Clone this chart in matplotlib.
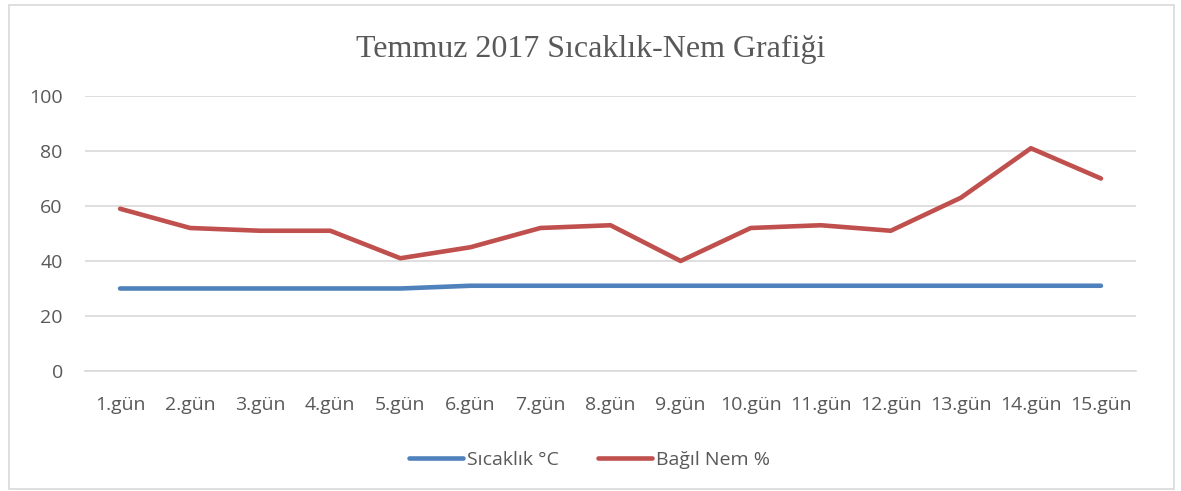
import matplotlib.pyplot as plt
from matplotlib.patches import Rectangle

gunler = [f"{i}.gün" for i in range(1, 16)]
sicaklik = [30, 30, 30, 30, 30, 31, 31, 31, 31, 31, 31, 31, 31, 31, 31]
nem = [59, 52, 51, 51, 41, 45, 52, 53, 40, 52, 53, 51, 63, 81, 70]

plt.rcParams['font.family'] = ['Open Sans', 'DejaVu Sans']
gri = "#595959"

fig = plt.figure(figsize=(11.81, 4.91), dpi=100)
ax = fig.add_axes([0.072, 0.2444, 0.8899, 0.5601])

x = range(len(gunler))
ax.plot(x, sicaklik, color="#4f81bd", lw=3.3, solid_capstyle="round", label="Sıcaklık °C")
ax.plot(x, nem, color="#c0504d", lw=3.3, solid_capstyle="round", label="Bağıl Nem %")

ax.set_xlim(-0.5, len(gunler) - 0.5)
ax.set_ylim(0, 100)
ax.set_yticks(range(0, 101, 20))
ax.set_xticks(list(x))
ax.set_xticklabels(gunler)
ax.grid(axis="y", color="#d9d9d9", lw=1.2)
ax.set_axisbelow(True)
for s in ["top", "right", "left"]:
    ax.spines[s].set_visible(False)
ax.spines["bottom"].set_color("#d9d9d9")
ax.spines["bottom"].set_linewidth(1.2)
ax.tick_params(length=0, labelsize=14, labelcolor=gri)
ax.tick_params(axis="x", pad=18)
ax.tick_params(axis="y", pad=16)

fig.text(0.5, 0.9, "Temmuz 2017 Sıcaklık-Nem Grafiği", ha="center", va="center",
         fontsize=23, color=gri, family="Liberation Serif")

ax.legend(loc="center", bbox_to_anchor=(0.48, -0.322), ncol=2, frameon=False,
          fontsize=14, labelcolor=gri, handlelength=2.8, handletextpad=0.2,
          columnspacing=2.0)

fig.patches.append(Rectangle((0.008, 0.005), 0.986, 0.985, transform=fig.transFigure,
                             fill=False, edgecolor="#d9d9d9", lw=1.2))

plt.savefig("out.png", dpi=100)
